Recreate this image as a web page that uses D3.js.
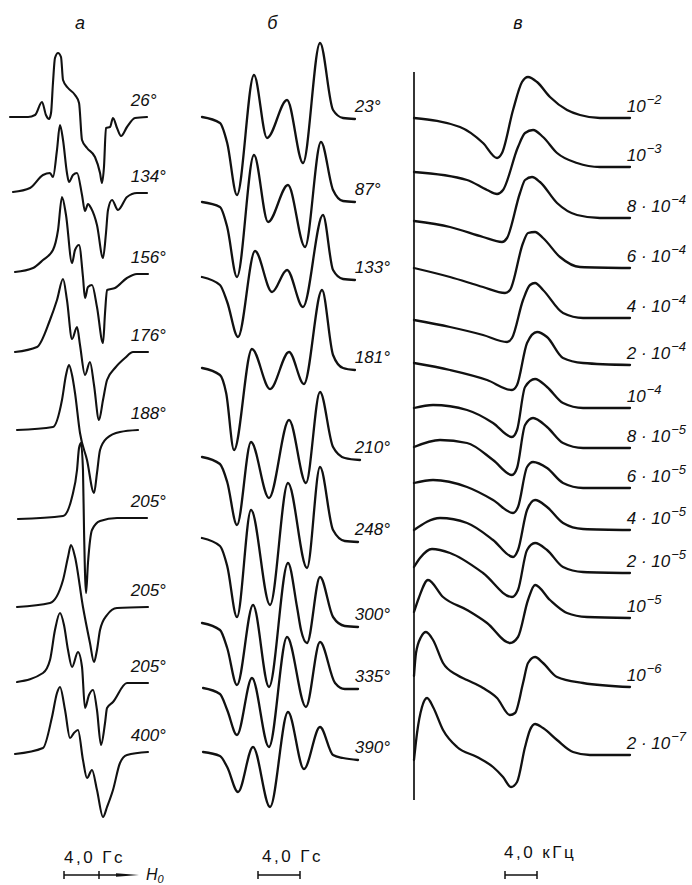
<!DOCTYPE html>
<html>
<head>
<meta charset="utf-8">
<script src="https://cdn.jsdelivr.net/npm/d3@7/dist/d3.min.js"></script>
<style>
  body { margin: 0; background: #fff; }
  svg { display: block; }
  text { font-family: "Liberation Sans", Arial, sans-serif; fill: #111; }
</style>
</head>
<body>
<svg id="chart" width="692" height="885"></svg>
<script>
// Panel а: field in Гс from the left end of each trace, signal in arbitrary units (up = +)
const anglesA = ['26°', '134°', '156°', '176°', '188°', '205°', '205°', '205°', '400°'];
const offsetsA = [11.7, 19.2, 27.2, 35.2, 43.0, 51.9, 60.7, 68.2, 75.3];
const curvesA = [
  [[0,0],[2.06,0],[2.86,0.2],[3.66,1.5],[4.11,0.2],[4.46,-0.2],[4.69,0.4],[4.91,3.4],[5.14,5.9],[5.49,6.4],[5.83,6.0],[6.06,3.7],[6.63,2.9],[7.43,2.2],[7.89,1.4],[8.23,-2.3],[8.8,-3.1],[9.71,-4.0],[10.29,-5.6],[10.51,-6.6],[10.74,-5.0],[10.97,-1.1],[11.43,-1.0],[11.77,-0.1],[12.23,-1.1],[12.69,-1.9],[13.37,-1.0],[14.29,-0.1],[15.66,0]],
  [[0.34,0],[2.29,0.4],[3.77,1.7],[4.57,1.9],[4.91,1.5],[5.37,4.2],[5.71,6.7],[6.06,5.2],[6.51,1.9],[6.74,1.0],[7.2,1.7],[7.66,1.9],[8.23,-0.3],[8.57,-1.9],[8.91,-1.2],[9.26,-1.6],[9.94,-3.3],[10.63,-6.6],[10.97,-4.1],[11.2,-1.8],[11.66,-0.8],[12.34,-1.8],[13.37,-0.5],[14.51,-0.1],[15.66,-0.1]],
  [[0.57,0],[2.63,0.4],[3.77,1.2],[4.91,2.2],[5.49,4.2],[5.94,7.5],[6.4,5.7],[7.09,0.9],[7.43,2.2],[7.89,2.7],[8.34,-0.5],[8.57,-2.6],[8.91,-1.5],[9.37,-1.3],[9.94,-3.5],[10.63,-7.1],[10.86,-4.1],[11.09,-1.8],[12.0,-1.6],[13.37,-0.6],[14.51,-0.2],[15.77,-0.2]],
  [[0.57,0],[3.09,0.5],[4.57,3.2],[5.37,5.2],[6.06,7.3],[6.51,5.2],[7.09,1.3],[7.66,2.5],[8.0,0.7],[8.57,-2.3],[9.14,-1.0],[9.6,-3.3],[10.17,-6.8],[10.63,-4.8],[11.09,-2.8],[12.0,-1.6],[13.14,-0.6],[14.06,0],[15.77,0]],
  [[0.8,0],[4.91,0.3],[5.94,3.0],[6.4,5.5],[6.74,6.5],[7.09,5.5],[7.43,3.7],[8.0,-0.3],[8.8,-3.0],[9.6,-6.3],[9.94,-4.3],[10.29,-2.0],[11.09,-0.8],[12.57,-0.2],[14.63,0]],
  [[0.91,0],[6.06,0.3],[7.09,2.2],[7.66,4.9],[7.89,7.1],[8.11,7.6],[8.34,4.9],[8.46,-1.1],[8.69,-7.4],[8.91,-4.4],[9.37,-1.1],[10.29,-0.2],[12.23,0.1],[15.66,0.1]],
  [[0.8,0],[4.57,0.4],[6.06,2.7],[6.63,5.0],[6.97,6.2],[7.43,5.0],[8.34,0],[9.14,-3.6],[9.6,-5.5],[9.94,-4.3],[10.29,-2.3],[11.09,-0.8],[12.23,-0.1],[15.77,0]],
  [[0.8,0],[3.77,0.9],[4.57,2.2],[5.14,5.2],[5.71,6.9],[6.17,5.7],[6.63,3.2],[7.09,1.5],[7.77,3.0],[8.23,1.5],[8.57,-2.6],[9.03,-1.3],[9.49,-0.8],[9.94,-2.8],[10.4,-6.3],[10.86,-4.1],[11.09,-2.6],[11.77,-2.0],[13.37,-0.1],[15.77,-0.1]],
  [[0.57,-0.1],[3.77,0.5],[4.8,3.6],[5.37,6.0],[5.71,6.6],[6.29,4.3],[6.86,1.5],[7.31,2.0],[7.77,2.3],[8.34,-0.7],[8.8,-2.5],[9.37,-1.7],[9.94,-3.7],[10.63,-6.4],[11.09,-5.4],[11.77,-3.7],[12.57,-1.0],[13.37,-0.2],[15.77,0.1]]
];

// Panel б
const anglesB = ['23°', '87°', '133°', '181°', '210°', '248°', '300°', '335°', '390°'];
const offsetsB = [11.7, 20.2, 27.7, 36.8, 45.7, 53.8, 62.3, 68.8, 75.2];
const curvesB = [
  [[0,0],[1.71,-0.6],[2.4,-2.6],[3.33,-7.8],[4.95,4.2],[6.19,-2.1],[8.1,1.7],[9.62,-4.6],[11.24,7.4],[12.48,0.7],[13.43,-0.1],[14.57,-0.2]],
  [[0,0],[1.71,-0.5],[2.4,-2.5],[3.33,-7.5],[4.95,4.7],[6.29,-2.0],[8.19,1.7],[9.81,-4.5],[11.33,6.0],[12.48,1.2],[13.43,0.1],[14.57,0]],
  [[0,0],[1.71,-0.8],[2.4,-2.5],[3.43,-6.0],[5.05,2.6],[6.67,-1.5],[8.1,0.7],[9.62,-3.0],[11.52,6.2],[12.48,0.7],[13.43,-0.2],[14.57,-0.3]],
  [[0,0],[1.71,-0.7],[2.3,-2.5],[3.05,-8.2],[4.76,1.9],[6.48,-2.1],[8.29,1.6],[9.71,-1.6],[11.43,7.8],[12.48,1.3],[13.43,0],[14.57,-0.2]],
  [[0,0],[1.71,-0.7],[2.4,-2.5],[3.33,-6.8],[4.67,1.5],[6.38,-4.1],[8.29,3.7],[9.9,-2.6],[11.24,6.5],[12.48,1.0],[13.6,-0.1],[15.05,-0.3]],
  [[0,0],[1.71,-0.8],[2.4,-2.8],[3.33,-7.9],[4.67,2.8],[6.48,-6.7],[8.19,5.5],[10.0,-3.0],[11.24,7.1],[12.48,0.8],[13.6,-0.3],[14.86,-0.4]],
  [[0,0],[1.71,-0.7],[2.4,-2.5],[3.33,-6.2],[4.86,1.8],[6.38,-6.4],[8.19,6.0],[9.05,1.6],[9.43,-0.7],[10.0,-2.0],[11.24,4.6],[12.48,0.6],[13.6,-0.3],[14.86,-0.4]],
  [[0.1,0],[1.71,-0.6],[2.4,-2.2],[3.33,-4.7],[4.76,1.0],[6.38,-5.9],[8.1,5.1],[9.9,-1.9],[11.24,4.6],[12.67,0.5],[13.6,-0.1],[14.86,-0.1]],
  [[0.1,0],[1.71,-0.4],[2.4,-1.5],[3.43,-4.0],[4.86,0.5],[6.48,-5.5],[8.19,4.0],[9.71,-1.7],[11.24,2.5],[12.48,-0.3],[13.43,-0.6],[14.86,-0.8]]
];

// Panel в: frequency in кГц, labels are mantissa · 10^exp
const mantissaC = ['', '', '8', '6', '4', '2', '', '8', '6', '4', '2', '', '', '2'];
const exponentC = ['−2', '−3', '−4', '−4', '−4', '−4', '−4', '−5', '−5', '−5', '−5', '−5', '−6', '−7'];
const offsetsC = [11.8, 16.7, 21.8, 26.8, 31.8, 36.5, 40.8, 44.8, 48.8, 53.0, 57.3, 61.8, 68.7, 75.5];
const curvesC = [
  [[0,0],[5.75,-0.9],[8.63,-2.5],[10.38,-4.0],[11.0,-3.5],[12.38,0.8],[13.5,3.6],[14.25,4.1],[15.38,3.6],[17.0,2.1],[19.13,0.8],[20.75,0.3],[23.25,0],[27,0]],
  [[0,-0.5],[6.63,-1.3],[9.13,-2.3],[10.38,-2.7],[11.13,-2.3],[13.0,2.0],[13.88,3.4],[14.88,3.7],[16.13,3.0],[17.88,1.4],[20.38,0.4],[23.25,0],[27,0]],
  [[0,-0.3],[4.5,-0.9],[8.63,-1.9],[11.0,-2.4],[11.63,-2.0],[13.25,2.5],[13.88,3.8],[14.75,4.1],[15.75,3.6],[17.88,1.5],[20.38,0.3],[23.25,0],[27,0]],
  [[0,0],[4.5,-0.9],[8.63,-1.9],[11.38,-2.5],[12.0,-2.2],[13.63,2.5],[14.25,3.5],[15.13,3.6],[16.13,3.0],[18.25,1.1],[20.75,0.1],[27,0]],
  [[0,-0.2],[4.5,-0.9],[8.63,-1.7],[11.63,-2.4],[12.25,-2.0],[13.63,1.8],[14.5,3.3],[15.13,3.5],[16.13,2.8],[18.63,0.5],[21.13,0],[27,0]],
  [[0,0.2],[4.5,-0.5],[9.13,-1.5],[12.25,-2.5],[12.88,-2.0],[14.13,2.2],[15.38,3.3],[16.63,2.8],[18.63,0.7],[21.13,0.2],[27,0]],
  [[0,0],[2.38,0.3],[6.63,-0.2],[9.88,-1.5],[12.25,-2.9],[12.88,-2.2],[13.88,2.1],[15.13,2.9],[16.63,2.1],[18.63,0.5],[21.13,0],[27,0]],
  [[0,0.1],[3.25,0.8],[6.63,0.5],[9.88,-1.2],[12.25,-2.7],[12.88,-2.0],[13.88,2.3],[14.88,3.0],[16.63,2.1],[18.63,0.5],[21.13,0],[27,0]],
  [[0,0.5],[2.38,0.8],[6.63,0.1],[9.88,-1.2],[12.38,-2.5],[13.0,-1.9],[14.13,2.1],[14.88,2.6],[16.63,2.0],[18.63,0.5],[21.13,0],[27,0]],
  [[0,0],[3.25,1.2],[6.63,0.7],[9.88,-1.0],[12.38,-2.7],[13.0,-2.0],[14.13,2.0],[15.13,3.0],[16.63,2.3],[18.63,0.7],[21.13,0.1],[27,0]],
  [[0,0.6],[0.75,1.5],[2.25,2.4],[4.5,2.0],[8.63,0],[12.25,-2.4],[13.0,-1.7],[14.13,2.3],[15.13,3.0],[16.63,2.3],[18.63,0.6],[21.13,0.1],[27,0]],
  [[0,0.6],[0.6,2.0],[1.75,3.8],[3.63,2.1],[6.63,0.8],[9.13,-0.5],[12.0,-2.5],[13.0,-1.9],[14.25,1.8],[15.13,3.3],[17.0,1.8],[19.13,0.5],[21.63,0.1],[27,0]],
  [[0,1.1],[0.25,3.4],[0.88,5.0],[1.5,5.5],[2.38,4.7],[3.63,2.4],[5.38,1.2],[6.63,0.7],[8.63,-0.1],[10.38,-1.1],[12.0,-2.8],[12.63,-2.6],[13.63,0.4],[14.25,2.4],[15.13,3.0],[16.13,2.4],[17.88,1.0],[21.13,0.4],[27,0]],
  [[0,-0.5],[0.38,2.2],[1.0,4.8],[1.63,5.7],[2.38,4.8],[3.63,2.5],[5.38,0.8],[7.88,-0.2],[9.88,-1.2],[11.13,-2.2],[12.13,-3.2],[12.88,-2.7],[13.88,0.8],[14.5,2.5],[15.13,3.1],[16.13,2.7],[17.88,1.5],[19.88,0.3],[22.0,0],[27,0]]
];

const svg = d3.select('#chart');

// one vertical scale shared by all three stacks
const y = d3.scaleLinear().domain([0, 88.5]).range([0, 885]);
const xA = d3.scaleLinear().domain([0, 16]).range([10, 150]);
const xB = d3.scaleLinear().domain([0, 15]).range([202, 359.5]);
const xC = d3.scaleLinear().domain([0, 27]).range([414, 630]);

function drawStack(x, curves, offsets, width) {
    const g = svg.append('g');
    curves.forEach((pts, i) => {
        const line = d3.line()
            .curve(d3.curveMonotoneX)
            .x(d => x(d[0]))
            .y(d => y(offsets[i] - d[1]));
        g.append('path')
            .attr('d', line(pts))
            .attr('fill', 'none')
            .attr('stroke', '#111')
            .attr('stroke-width', width)
            .attr('stroke-linejoin', 'round')
            .attr('stroke-linecap', 'round');
    });
    return g;
}

// end of a trace in pixels, labels hang just above it
const endY = (curves, offsets, i) => y(offsets[i] - curves[i][curves[i].length - 1][1]);

drawStack(xA, curvesA, offsetsA, 2.1);
drawStack(xB, curvesB, offsetsB, 2.3);
drawStack(xC, curvesC, offsetsC, 2.3);

// panel в reference line
svg.append('line')
    .attr('x1', xC(0)).attr('x2', xC(0))
    .attr('y1', y(7.2)).attr('y2', y(80))
    .attr('stroke', '#111').attr('stroke-width', 1.7);

svg.append('g').selectAll('text')
    .data(anglesA)
    .join('text')
    .attr('x', xA(13.8))
    .attr('y', (d, i) => endY(curvesA, offsetsA, i) - 11)
    .attr('font-size', 17)
    .attr('font-style', 'italic')
    .text(d => d);

svg.append('g').selectAll('text')
    .data(anglesB)
    .join('text')
    .attr('x', xB(14.55))
    .attr('y', (d, i) => endY(curvesB, offsetsB, i) - 7)
    .attr('font-size', 17)
    .attr('font-style', 'italic')
    .text(d => d);

const labC = svg.append('g').selectAll('text')
    .data(exponentC)
    .join('text')
    .attr('x', xC(26.6))
    .attr('y', (d, i) => endY(curvesC, offsetsC, i) - 6)
    .attr('font-size', 17)
    .attr('font-style', 'italic');
labC.append('tspan')
    .text((d, i) => mantissaC[i] ? mantissaC[i] + ' · 10' : '10');
labC.append('tspan')
    .attr('dy', -8)
    .attr('dx', 1)
    .attr('font-size', 13)
    .text(d => d);

// panel letters
const letters = [['а', xA(8)], ['б', xB(6.7)], ['в', xC(13)]];
svg.append('g').selectAll('text')
    .data(letters)
    .join('text')
    .attr('x', d => d[1])
    .attr('y', 29)
    .attr('text-anchor', 'middle')
    .attr('font-size', 18)
    .attr('font-style', 'italic')
    .text(d => d[0]);

// scale bars, 4 units long in each panel's own scale
function scaleBar(x, left, yPx, label, textX, textY) {
    const len = x(4) - x(0);
    const g = svg.append('g').attr('stroke', '#111').attr('stroke-width', 1.5);
    g.append('line').attr('x1', left).attr('x2', left + len).attr('y1', yPx).attr('y2', yPx);
    [left, left + len].forEach(px => {
        g.append('line').attr('x1', px).attr('x2', px).attr('y1', yPx - 4).attr('y2', yPx + 4);
    });
    svg.append('text')
        .attr('x', textX).attr('y', textY)
        .attr('font-size', 17)
        .attr('letter-spacing', 2.5)
        .text(label);
    return len;
}

const lenA = scaleBar(xA, 64, 875, '4,0 Гс', 64, 863);
scaleBar(xB, 258, 875, '4,0 Гс', 262, 862);
scaleBar(xC, 505, 875, '4,0 кГц', 504, 858);

// field direction arrow after panel а bar
svg.append('line')
    .attr('x1', 64 + lenA).attr('x2', 122)
    .attr('y1', 875).attr('y2', 875)
    .attr('stroke', '#111').attr('stroke-width', 1.5);
svg.append('path')
    .attr('d', d3.line()([[116, 873.2], [139, 875], [116, 876.8]]))
    .attr('fill', '#111');
const h0 = svg.append('text')
    .attr('x', 146).attr('y', 880)
    .attr('font-size', 16)
    .attr('font-style', 'italic')
    .text('H');
h0.append('tspan').attr('dy', 3).attr('font-size', 11).text('0');
</script>
</body>
</html>
